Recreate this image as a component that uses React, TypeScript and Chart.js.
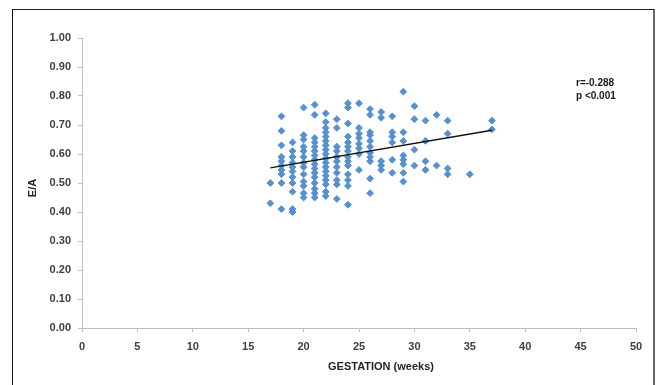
import React, { useEffect, useRef } from "react";
import { Chart, registerables } from "chart.js";

Chart.register(...registerables);

// ---- data ----
const gestationWeeks = [17, 18, 19, 20, 21, 22, 23, 24, 25, 26, 27, 28, 29, 30, 31, 32, 33, 35, 37];
const eaByWeek: number[][] = [
  [0.5, 0.43],
  [0.73, 0.68, 0.63, 0.59, 0.575, 0.56, 0.545, 0.53, 0.5, 0.41],
  [0.64, 0.61, 0.59, 0.57, 0.555, 0.54, 0.52, 0.5, 0.47, 0.41, 0.4],
  [0.76, 0.665, 0.65, 0.625, 0.61, 0.59, 0.57, 0.555, 0.53, 0.505, 0.49, 0.465, 0.45],
  [0.77, 0.735, 0.655, 0.64, 0.625, 0.61, 0.595, 0.58, 0.565, 0.55, 0.535, 0.52, 0.5, 0.48, 0.465, 0.45],
  [0.74, 0.71, 0.69, 0.675, 0.66, 0.645, 0.63, 0.615, 0.6, 0.585, 0.57, 0.555, 0.54, 0.525, 0.51, 0.495, 0.47, 0.455],
  [0.72, 0.69, 0.625, 0.61, 0.59, 0.575, 0.555, 0.535, 0.51, 0.495, 0.445],
  [0.775, 0.76, 0.705, 0.66, 0.64, 0.625, 0.61, 0.59, 0.575, 0.56, 0.53, 0.51, 0.49, 0.425],
  [0.775, 0.69, 0.67, 0.655, 0.635, 0.62, 0.6, 0.545],
  [0.755, 0.735, 0.675, 0.665, 0.645, 0.625, 0.605, 0.59, 0.575, 0.515, 0.465],
  [0.745, 0.725, 0.575, 0.56, 0.545],
  [0.73, 0.675, 0.66, 0.64, 0.58, 0.535],
  [0.815, 0.675, 0.645, 0.595, 0.58, 0.565, 0.535, 0.505],
  [0.765, 0.72, 0.615, 0.56],
  [0.715, 0.645, 0.575, 0.545],
  [0.735, 0.56],
  [0.715, 0.67, 0.55, 0.53],
  [0.53],
  [0.715, 0.685],
];
const trendWeeks = [17, 37];
const trendEA = [0.552, 0.682];
const statLines = ["r=-0.288", "p <0.001"];
const xTitle = "GESTATION (weeks)";
const yTitle = "E/A";

const W = 656;
const H = 385;

const textPlugin = {
  id: "customText",
  afterDraw(chart: any) {
    const ctx = chart.ctx;
    ctx.save();
    ctx.fillStyle = "#1a1a1a";
    ctx.font = "bold 10px 'Liberation Sans', Arial, sans-serif";
    ctx.textAlign = "left";
    ctx.textBaseline = "middle";
    ctx.fillText(statLines[0], 576, 83);
    ctx.fillText(statLines[1], 576, 96);

    ctx.fillStyle = "#262626";
    ctx.font = "bold 11px 'Liberation Sans', Arial, sans-serif";
    ctx.textAlign = "center";
    ctx.fillText(xTitle, 381, 367);
    ctx.translate(33, 188);
    ctx.rotate(-Math.PI / 2);
    ctx.fillText(yTitle, 0, 0);
    ctx.restore();
  },
};

export default function App() {
  const ref = useRef<HTMLCanvasElement | null>(null);

  useEffect(() => {
    if (!ref.current) return;
    const points: { x: number; y: number }[] = [];
    gestationWeeks.forEach((w, i) => {
      eaByWeek[i].forEach((v) => points.push({ x: w, y: v }));
    });
    const trend = trendWeeks.map((w, i) => ({ x: w, y: trendEA[i] }));
    const tickFont = { family: "'Liberation Sans', Arial, sans-serif", size: 11, weight: "bold" as const };
    const axisColor = "#bdbdbd";

    const chart = new Chart(ref.current, {
      type: "scatter",
      data: {
        datasets: [
          {
            type: "line",
            data: trend,
            borderColor: "#111",
            borderWidth: 1.4,
            pointRadius: 0,
            showLine: true,
            fill: false,
            order: 0,
          } as any,
          {
            data: points,
            pointStyle: "rectRot",
            pointRadius: 3.4,
            pointBorderWidth: 1,
            backgroundColor: "#5690CE",
            borderColor: "#5690CE",
            order: 1,
          },
        ],
      },
      options: {
        responsive: false,
        animation: false,
        layout: { padding: { left: 0, right: 20, top: 38, bottom: 0 } },
        plugins: { legend: { display: false }, tooltip: { enabled: false } },
        scales: {
          x: {
            type: "linear",
            min: 0,
            max: 50,
            ticks: { stepSize: 5, font: tickFont, color: "#404040", padding: 8 },
            grid: { drawOnChartArea: false, tickLength: 4, color: axisColor },
            border: { color: axisColor, width: 1 },
            afterFit: (s: any) => {
              s.height = 57;
            },
          },
          y: {
            type: "linear",
            min: 0,
            max: 1,
            ticks: {
              stepSize: 0.1,
              font: tickFont,
              color: "#404040",
              padding: 7,
              callback: (v: any) => Number(v).toFixed(2),
            },
            grid: { drawOnChartArea: false, tickLength: 4, color: axisColor },
            border: { color: axisColor, width: 1 },
            afterFit: (s: any) => {
              s.width = 82;
            },
          },
        },
      },
      plugins: [textPlugin],
    });
    return () => chart.destroy();
  }, []);

  return (
    <div
      style={{
        position: "fixed",
        left: 0,
        top: 0,
        width: W,
        height: H,
        background: "#fff",
        overflow: "hidden",
      }}
    >
      <canvas ref={ref} width={W} height={H} style={{ position: "absolute", left: 0, top: 0, width: W, height: H }} />
      <div
        style={{
          position: "absolute",
          left: 12,
          top: 9,
          width: 640,
          height: 400,
          borderLeft: "1px solid #111",
          borderTop: "1.5px solid #222",
          borderRight: "2px solid #666",
          pointerEvents: "none",
        }}
      />
    </div>
  );
}
